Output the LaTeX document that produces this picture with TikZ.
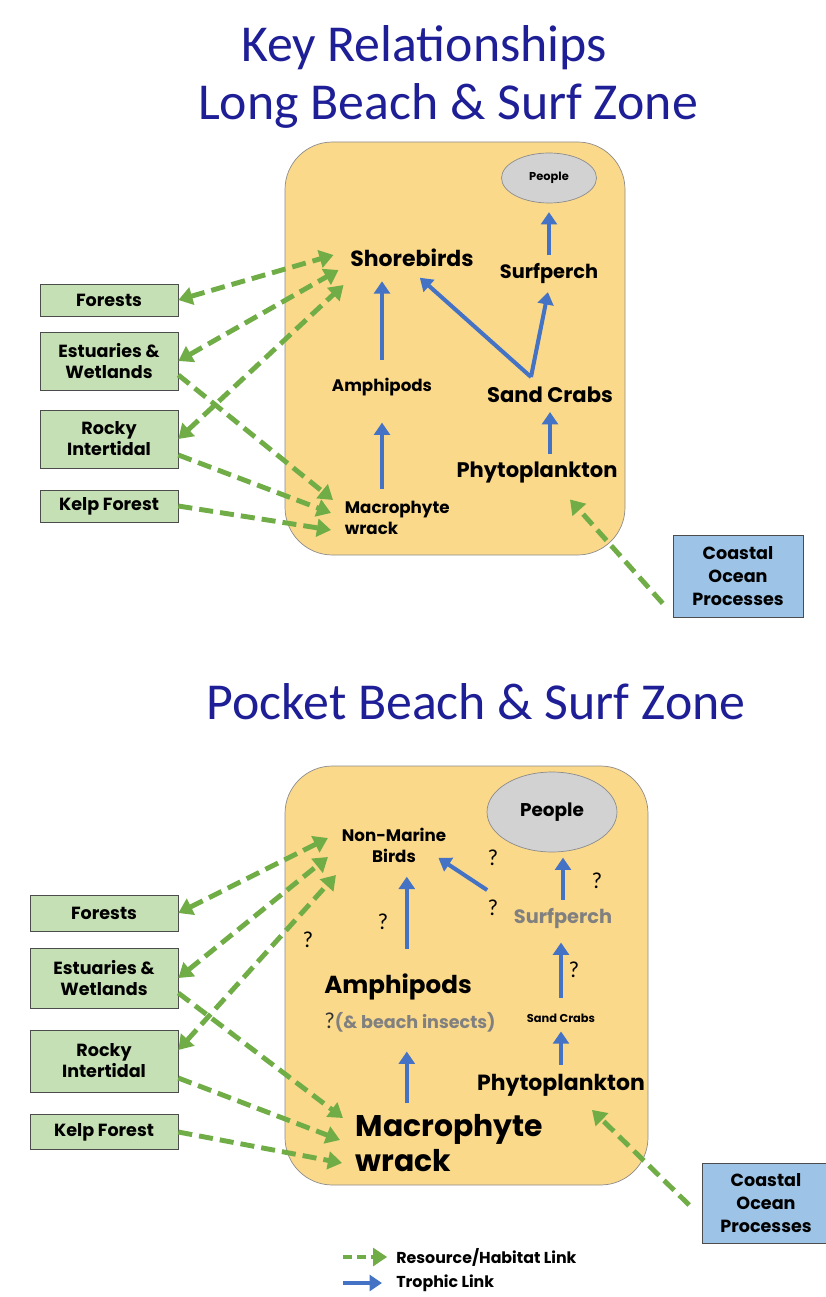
\documentclass[tikz,border=0pt]{standalone}
\usepackage{fontspec}
\setmainfont{Poppins}
\newfontfamily\titlefont{Carlito}
\usetikzlibrary{arrows.meta,shapes.geometric}

\definecolor{titleblue}{RGB}{30,30,150}
\definecolor{panelfill}{RGB}{251,217,138}
\definecolor{boxgreen}{RGB}{197,224,180}
\definecolor{boxblue}{RGB}{157,195,230}
\definecolor{linkgreen}{RGB}{112,173,71}
\definecolor{linkblue}{RGB}{68,114,196}
\definecolor{peoplegray}{RGB}{210,210,210}
\definecolor{softtext}{RGB}{128,128,128}

\newcommand{\fsz}[2]{\fontsize{#1}{#2}\selectfont}

\tikzset{
  troph/.style={-{Triangle[width=9pt,length=7pt]}, line width=2.3pt, linkblue,
    shorten <=2pt, shorten >=3pt},
  habit/.style={-{Triangle[width=10pt,length=8pt]}, line width=2.8pt, linkgreen,
    dash pattern=on 8pt off 4pt},
  habitboth/.style={habit, {Triangle[width=10pt,length=8pt]}-{Triangle[width=10pt,length=8pt]}},
  panel/.style={draw=black!45, fill=panelfill, rounded corners=0.95cm},
  envbox/.style={draw=black!70, fill=boxgreen, font=\bfseries\fsz{10}{12},
    align=center, inner sep=1pt},
  oceanbox/.style={draw=black!70, fill=boxblue, font=\bfseries\fsz{10}{13},
    align=center, inner sep=1pt},
  folk/.style={ellipse, draw=black!45, fill=peoplegray, inner sep=0pt},
  taxon/.style={font=\bfseries\fsz{12}{14}, inner sep=2pt},
  query/.style={font=\titlefont\fsz{13}{15}, inner sep=0pt},
  heading/.style={font=\titlefont\fsz{29.5}{34}, text=titleblue}
}

\begin{document}
\begin{tikzpicture}[x=0.02cm, y=-0.02cm]
   \useasboundingbox (0,0) rectangle (825,1297);

   % titles
   \node[heading] (titleA) at (424,48) {Key Relationships};
   \node[heading] (titleB) at (448,106) {Long Beach \& Surf Zone};
   \node[heading] (titleC) at (476,702) {Pocket Beach \& Surf Zone};

   %%% long beach
   \draw[panel] (285,142) rectangle (625,555);

   \node[folk, minimum width=1.9cm, minimum height=1cm, font=\bfseries\fsz{6.5}{8}] (peopleA) at (549,178) {People};
   \node[taxon, font=\bfseries\fsz{12.5}{15}] (shoreA) at (412,258) {Shorebirds};
   \node[taxon, font=\bfseries\fsz{11}{13}] (surfA) at (549,273) {Surfperch};
   \node[taxon, font=\bfseries\fsz{9.5}{11}] (amphA) at (382,387) {Amphipods};
   \node[taxon, font=\bfseries\fsz{12}{14}] (crabA) at (550,395) {Sand Crabs};
   \node[taxon, font=\bfseries\fsz{12}{14}] (phytoA) at (537,472) {Phytoplankton};
   \node[taxon, font=\bfseries\fsz{9.5}{12}, align=left, anchor=west] (wrackA) at (341,518) {Macrophyte\\wrack};
   \coordinate (forkA) at (531,377);

   \node[envbox, minimum width=2.76cm, minimum height=0.64cm] (forA) at (109,300) {Forests};
   \node[envbox, minimum width=2.76cm, minimum height=1.16cm] (estA) at (109,361) {Estuaries \&\\Wetlands};
   \node[envbox, minimum width=2.76cm, minimum height=1.16cm] (rockA) at (109,439) {Rocky\\Intertidal};
   \node[envbox, minimum width=2.76cm, minimum height=0.64cm] (kelpA) at (109,506) {Kelp Forest};
   \node[oceanbox, minimum width=2.6cm, minimum height=1.64cm] (coastA) at (738,576) {Coastal\\Ocean\\Processes};

   \draw[troph, shorten <=8pt, shorten >=6pt] (amphA.north) -- (amphA.north |- shoreA.south);
   \draw[troph, shorten <=5pt, shorten >=13pt] (amphA |- wrackA.north) -- (amphA.south);
   \draw[troph, shorten >=5pt] (surfA.north) -- (peopleA.south);
   \draw[troph] (crabA |- phytoA.north) -- (crabA.south);
   \draw[troph, shorten <=0pt] (forkA) -- (surfA.south);
   \draw[troph, shorten <=0pt, shorten >=6pt] (forkA) -- (shoreA.south);

   \draw[habitboth] (forA.east) -- ([shift={(-13,-3)}]shoreA.west);
   \draw[habitboth] (estA.east) -- ([shift={(-8,12)}]shoreA.west);
   \draw[habitboth] (rockA.east) -- ([shift={(-3,27)}]shoreA.west);
   \draw[habit] ([yshift=-0.28cm]estA.east) -- ([shift={(-8,-18)}]wrackA.west);
   \draw[habit] ([yshift=-0.32cm]rockA.east) -- ([shift={(-10,-5)}]wrackA.west);
   \draw[habit] (kelpA.east) -- ([shift={(-10,12)}]wrackA.west);
   \draw[habit] ([shift={(-10,-14)}]coastA.south west) -- ([shift={(33,13)}]phytoA.south);

   %%% pocket beach
   \draw[panel] (285,766) rectangle (648,1185);

   \node[folk, minimum width=2.6cm, minimum height=1.6cm, font=\bfseries\fsz{10.5}{12}] (peopleB) at (552,812) {People};
   \node[taxon, font=\bfseries\fsz{9.5}{12}, align=center] (birdsB) at (394,845) {Non-Marine\\Birds};
   \node[taxon, font=\bfseries\fsz{14}{16}] (amphB) at (398,987) {Amphipods};
   \node[taxon, font=\bfseries\fsz{10}{12}, text=softtext] (insectB) at (410,1022) {{\mdseries\titlefont\fsz{13}{14}\color{black!80}?}(\& beach insects)};
   \node[taxon, font=\bfseries\fsz{11}{13}, text=softtext] (surfB) at (563,918) {Surfperch};
   \node[taxon, font=\bfseries\fsz{6.5}{8}] (crabB) at (561,1018) {Sand Crabs};
   \node[taxon, font=\bfseries\fsz{12.5}{15}] (phytoB) at (561,1085) {Phytoplankton};
   \node[taxon, font=\bfseries\fsz{17}{20}, align=left, anchor=west] (wrackB) at (352,1143) {Macrophyte\\wrack};

   \node[query] (qa) at (383,922) {?};
   \node[query] (qb) at (493,858) {?};
   \node[query] (qc) at (493,908) {?};
   \node[query] (qd) at (597,881) {?};
   \node[query] (qe) at (574,970) {?};
   \node[query] (qf) at (308,940) {?};

   \node[envbox, minimum width=2.96cm, minimum height=0.72cm] (forB) at (104,913) {Forests};
   \node[envbox, minimum width=2.96cm, minimum height=1.2cm] (estB) at (104,978) {Estuaries \&\\Wetlands};
   \node[envbox, minimum width=2.96cm, minimum height=1.24cm] (rockB) at (104,1061) {Rocky\\Intertidal};
   \node[envbox, minimum width=2.96cm, minimum height=0.7cm] (kelpB) at (104,1132) {Kelp Forest};
   \node[oceanbox, minimum width=2.54cm, minimum height=1.6cm] (coastB) at (766,1203) {Coastal\\Ocean\\Processes};

   \draw[troph, shorten <=12pt, shorten >=6pt] ([xshift=5]amphB.north) -- ([xshift=5]amphB.north |- birdsB.south);
   \draw[troph, shorten <=4pt, shorten >=9pt] ([xshift=5]amphB |- wrackB.north) -- ([xshift=5]amphB |- insectB.south);
   \draw[troph] (surfB.north) -- (surfB.north |- peopleB.south);
   \draw[troph, shorten <=7pt, shorten >=6pt] (crabB.north) -- (crabB.north |- surfB.south);
   \draw[troph, shorten <=3pt] (crabB |- phytoB.north) -- (crabB.south);
   \draw[troph] ([shift={(-20,-12)}]surfB.north west) -- ([shift={(-16,10)}]birdsB.east);

   \draw[habitboth] (forB.east) -- ([shift={(-10,-7)}]birdsB.west);
   \draw[habitboth] (estB.east) -- ([shift={(-10,12)}]birdsB.west);
   \draw[habitboth] ([yshift=0.22cm]rockB.east) -- ([shift={(-2,30)}]birdsB.west);
   \draw[habit] ([yshift=-0.3cm]estB.east) -- ([shift={(-9,-25)}]wrackB.west);
   \draw[habit] ([yshift=-0.34cm]rockB.east) -- ([shift={(-12,-3)}]wrackB.west);
   \draw[habit] (kelpB.east) -- ([shift={(-10,20)}]wrackB.west);
   \draw[habit] ([shift={(-13,2)}]coastB.west) -- ([shift={(31,10)}]phytoB.south);

   % legend
   \node[font=\bfseries\fsz{9}{11}, anchor=west, inner sep=0pt] (legHab) at (396,1257) {Resource/Habitat Link};
   \node[font=\bfseries\fsz{9}{11}, anchor=west, inner sep=0pt] (legTro) at (396,1283) {Trophic Link};
   \coordinate (legHabStart) at (343,1257);
   \coordinate (legTroStart) at (343,1283);
   \draw[habit, line width=2.2pt, dash pattern=on 5pt off 3pt] (legHabStart) -- ([xshift=-5]legHab.west);
   \draw[troph, shorten <=0pt] (legTroStart) -- ([xshift=-5]legTro.west);
\end{tikzpicture}
\end{document}
